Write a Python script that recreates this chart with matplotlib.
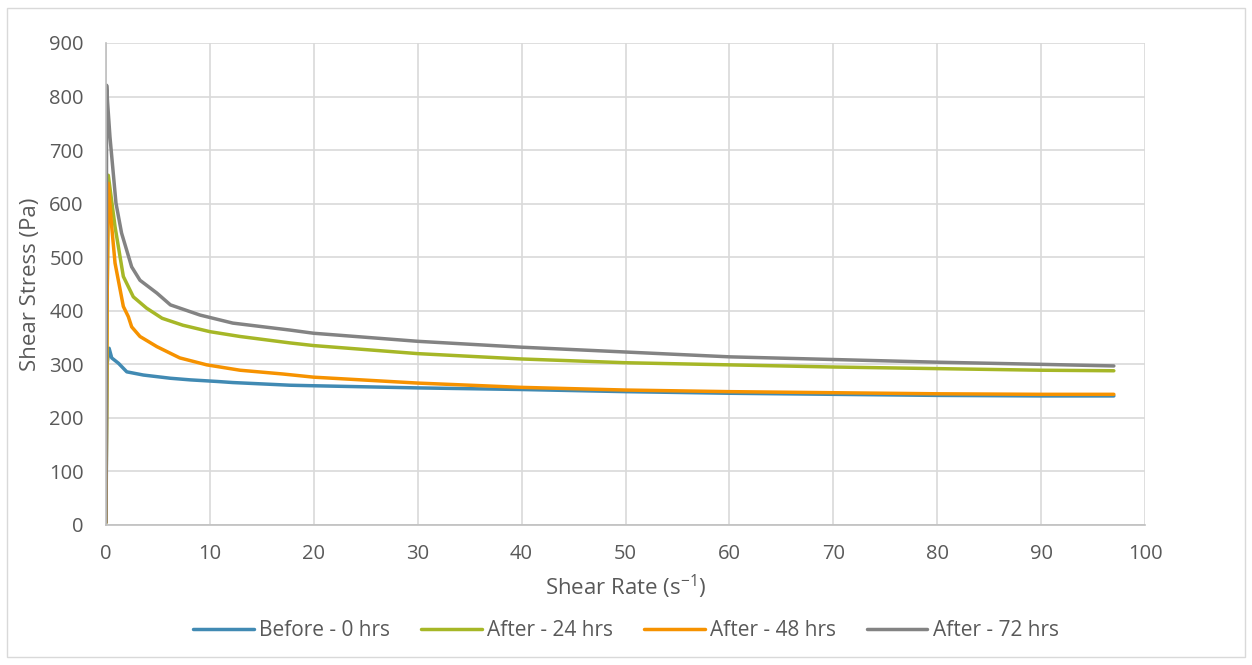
import matplotlib
matplotlib.use("Agg")
import matplotlib.pyplot as plt
from matplotlib.patches import Rectangle

plt.rcParams['font.family'] = ['Open Sans', 'DejaVu Sans']

# Data
before_x = [0, 0.1, 0.3, 0.55, 1.2, 2.0, 3.6, 6.2, 8.1, 10.7, 12.2, 17.7, 20, 30, 40, 50, 60, 70, 80, 90, 97]
before_y = [5, 300, 330, 312, 302, 286, 280, 274, 271, 268, 266, 261, 260, 256, 253, 249, 246, 244, 242, 241, 241]

after24_x = [0, 0.1, 0.22, 0.87, 1.67, 2.63, 3.9, 5.4, 7.4, 10, 12.9, 17.7, 20, 30, 40, 50, 60, 70, 80, 90, 97]
after24_y = [5, 400, 653, 557, 464, 426, 405, 386, 373, 361, 352, 340, 335, 320, 310, 303, 299, 295, 292, 289, 288]

after48_x = [0, 0.1, 0.22, 0.55, 0.87, 1.67, 2.15, 2.47, 3.27, 4.9, 7.1, 9.7, 12.9, 17, 20, 30, 40, 50, 60, 70, 80, 90, 97]
after48_y = [5, 400, 638, 557, 489, 408, 389, 370, 352, 333, 312, 299, 289, 282, 276, 265, 257, 252, 249, 247, 245, 244, 244]

after72_x = [0, 0.06, 0.15, 0.38, 0.96, 1.5, 2.47, 3.27, 4.9, 6.2, 9.05, 12.2, 17.7, 20, 30, 40, 50, 60, 70, 80, 90, 97]
after72_y = [5, 821, 790, 725, 601, 545, 482, 457, 433, 411, 392, 377, 364, 358, 343, 332, 323, 314, 309, 304, 300, 297]

series_labels = ["Before - 0 hrs", "After - 24 hrs", "After - 48 hrs", "After - 72 hrs"]
colors = ["#418AB3", "#A6B727", "#F69200", "#838383"]

fig = plt.figure(figsize=(12.52, 6.65), dpi=100)
fig.patches.append(Rectangle((7/1252, 1 - 657/665), (1245-7)/1252, (657-8)/665,
                             transform=fig.transFigure, fill=False,
                             edgecolor="#D9D9D9", linewidth=1.0))

ax = fig.add_axes([106/1252, 1 - 525/665, (1145-106)/1252, (525-43)/665])

for xs, ys, c, lab in zip([before_x, after24_x, after48_x, after72_x],
                          [before_y, after24_y, after48_y, after72_y],
                          colors, series_labels):
    ax.plot(xs, ys, color=c, linewidth=2.5, label=lab, solid_capstyle="round")

ax.set_xlim(0, 100)
ax.set_ylim(0, 900)
ax.set_xticks(range(0, 101, 10))
ax.set_yticks(range(0, 901, 100))
ax.grid(True, color="#D9D9D9", linewidth=1.2)
ax.set_axisbelow(True)
for s in ["top", "right"]:
    ax.spines[s].set_visible(False)
for s in ["left", "bottom"]:
    ax.spines[s].set_color("#BFBFBF")
    ax.spines[s].set_linewidth(1.2)
ax.tick_params(axis="y", length=0, labelsize=14.5, labelcolor="#595959", pad=16)
ax.tick_params(axis="x", length=0, labelsize=14.5, labelcolor="#595959", pad=14)

ax.set_xlabel("Shear Rate (s$^{\\mathregular{-1}}$)", fontsize=16, color="#595959", labelpad=6)
ax.set_ylabel("Shear Stress (Pa)", fontsize=16, color="#595959", labelpad=6)

leg = fig.legend(loc="center", bbox_to_anchor=(0.5, 1 - 631/665), ncol=4,
                 frameon=False, fontsize=15, handlelength=2.9, handletextpad=0.25,
                 columnspacing=1.5, labelcolor="#595959")

fig.savefig("out.png", dpi=100)
